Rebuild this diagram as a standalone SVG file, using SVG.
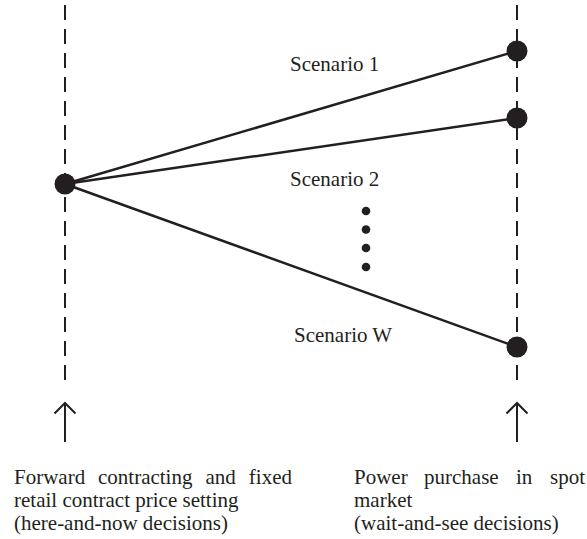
<svg xmlns="http://www.w3.org/2000/svg" width="587" height="539" viewBox="0 0 587 539">
<style>
.dash{stroke:#231f20;stroke-width:2;stroke-dasharray:15 9;fill:none}
.edge{stroke:#231f20;stroke-width:2.5;fill:none}
.node{fill:#231f20}
.arrow{stroke:#231f20;stroke-width:2;fill:none}
text{font-family:"Liberation Serif","Times New Roman",serif;font-size:21px;fill:#231f20}
</style>
<rect width="587" height="539" fill="#ffffff"/>
<g id="timelines">
<line class="dash" x1="65" y1="5" x2="65" y2="380"/>
<line class="dash" x1="517" y1="5" x2="517" y2="380"/>
</g>
<g id="connectors">
<line class="edge" x1="65" y1="184" x2="517" y2="51"/>
<line class="edge" x1="65" y1="184" x2="517" y2="118"/>
<line class="edge" x1="65" y1="184" x2="517" y2="347"/>
</g>
<g id="node-root"><circle class="node" cx="65" cy="184" r="10.5"/></g>
<g id="node-s1"><circle class="node" cx="517" cy="51" r="10.5"/></g>
<g id="node-s2"><circle class="node" cx="517" cy="118" r="10.5"/></g>
<g id="node-sw"><circle class="node" cx="517" cy="347" r="10.5"/></g>
<g id="ellipsis">
<circle class="node" cx="366" cy="211" r="4.3"/>
<circle class="node" cx="366" cy="229.5" r="4.3"/>
<circle class="node" cx="366" cy="248" r="4.3"/>
<circle class="node" cx="366" cy="267" r="4.3"/>
</g>
<g id="labels">
<text x="290" y="71">Scenario 1</text>
<text x="290" y="186">Scenario 2</text>
<text x="294" y="342">Scenario W</text>
</g>
<g id="arrow-left">
<line class="arrow" x1="65" y1="442" x2="65" y2="403"/>
<polyline class="arrow" points="54.5,413.5 65,403 75.5,413.5"/>
</g>
<g id="arrow-right">
<line class="arrow" x1="517" y1="442" x2="517" y2="403"/>
<polyline class="arrow" points="506.5,413.5 517,403 527.5,413.5"/>
</g>
<g id="caption-left">
<text y="484"><tspan x="14">Forward</tspan><tspan x="98">contracting</tspan><tspan x="205.5">and</tspan><tspan x="292" text-anchor="end">fixed</tspan></text>
<text x="14" y="507">retail contract price setting</text>
<text x="14" y="530">(here-and-now decisions)</text>
</g>
<g id="caption-right">
<text y="484"><tspan x="354">Power</tspan><tspan x="424">purchase</tspan><tspan x="516">in</tspan><tspan x="585" text-anchor="end">spot</tspan></text>
<text x="354" y="507">market</text>
<text x="354" y="530">(wait-and-see decisions)</text>
</g>
</svg>
